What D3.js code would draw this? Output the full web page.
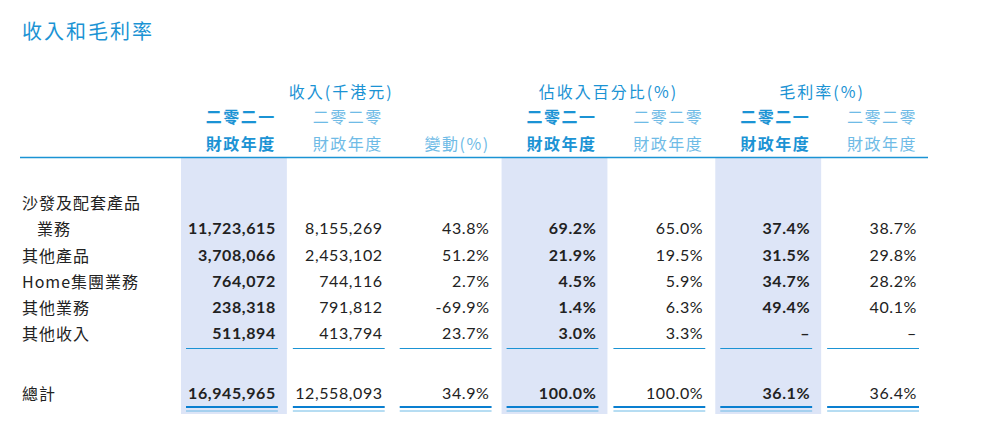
<!DOCTYPE html><html><head><meta charset="utf-8"><script src="https://cdn.jsdelivr.net/npm/d3@7"></script>
<style>body{margin:0;background:#fff}</style></head><body><svg id="c" width="981" height="436"></svg>
<script>
const categories=["沙發及配套產品\n業務","其他產品","Home集團業務","其他業務","其他收入","總計"];
const rev2021=["11,723,615","3,708,066","764,072","238,318","511,894","16,945,965"];
const rev2020=["8,155,269","2,453,102","744,116","791,812","413,794","12,558,093"];
const change=["43.8%","51.2%","2.7%","-69.9%","23.7%","34.9%"];
const share2021=["69.2%","21.9%","4.5%","1.4%","3.0%","100.0%"];
const share2020=["65.0%","19.5%","5.9%","6.3%","3.3%","100.0%"];
const margin2021=["37.4%","31.5%","34.7%","49.4%","–","36.1%"];
const margin2020=["38.7%","29.8%","28.2%","40.1%","–","36.4%"];
const groups=[["收入(千港元)",0,2],["佔收入百分比(%)",3,4],["毛利率(%)",5,6]];
const cols=[rev2021,rev2020,change,share2021,share2020,margin2021,margin2020];
const bold=[true,false,false,true,false,true,false];
const svg=d3.select("#c");
const blue="#1b93d4",light="#6fbbe6",cjk="'Noto Sans CJK TC',sans-serif",num="Lato,'Open Sans',sans-serif";
const x=d3.scaleBand().domain(d3.range(7)).range([181,929]).paddingInner(0);
const rowY=[229,256,282,308,334,394];
svg.append("text").attr("x",22).attr("y",39).attr("fill",blue).attr("font-family",cjk).attr("font-size",20).attr("letter-spacing",2).text("收入和毛利率");
[0,3,5].forEach(i=>svg.append("rect").attr("x",x(i)).attr("y",158).attr("width",x.bandwidth()-1).attr("height",256).attr("fill","#dde5f7"));
svg.append("line").attr("x1",20).attr("x2",928).attr("y1",157.5).attr("y2",157.5).attr("stroke",blue).attr("stroke-width",1.5);
groups.forEach(([t,a,b])=>svg.append("text").attr("x",(x(a)+x(b)+x.bandwidth())/2).attr("y",98).attr("text-anchor","middle").attr("fill",blue).attr("font-family",cjk).attr("font-size",16).attr("letter-spacing",2).text(t));
const R=i=>x(i)+x.bandwidth()-12;
d3.range(7).forEach(i=>{
  const is21=[0,3,5].includes(i);
  if(i!==2) svg.append("text").attr("x",R(i)).attr("y",123).attr("text-anchor","end").attr("fill",is21?blue:light).attr("font-family",cjk).attr("font-weight",is21?"bold":"normal").attr("font-size",16).attr("letter-spacing",1.5).text(is21?"二零二一":"二零二零");
  svg.append("text").attr("x",R(i)).attr("y",150).attr("text-anchor","end").attr("fill",is21?blue:light).attr("font-family",cjk).attr("font-weight",is21?"bold":"normal").attr("font-size",16).attr("letter-spacing",1.5).text(i===2?"變動(%)":"財政年度");
  cols[i].forEach((v,r)=>svg.append("text").attr("x",R(i)).attr("y",rowY[r]+5).attr("text-anchor","end").attr("fill","#222").attr("font-family",num).attr("font-weight",bold[i]?"bold":"normal").attr("font-size",16).attr("letter-spacing",0.6).text(v));
  svg.append("line").attr("x1",x(i)+5).attr("x2",R(i)+2).attr("y1",348.5).attr("y2",348.5).attr("stroke",blue).attr("stroke-width",1);
  svg.append("line").attr("x1",x(i)+5).attr("x2",R(i)+2).attr("y1",407).attr("y2",407).attr("stroke","#0a7fd0").attr("stroke-width",2);
  svg.append("line").attr("x1",x(i)+5).attr("x2",R(i)+2).attr("y1",411).attr("y2",411).attr("stroke",light).attr("stroke-width",1);
});
categories.forEach((c,r)=>{
  const parts=c.split("\n");
  const t=(xx,yy,s)=>svg.append("text").attr("x",xx).attr("y",yy).attr("fill","#222").attr("font-family",cjk).attr("font-size",16).attr("letter-spacing",1).text(s);
  if(parts.length>1){ t(22,209,parts[0]); t(37,rowY[r]+6,parts[1]); }
  else t(22,rowY[r]+6,c);
});
</script></body></html>
